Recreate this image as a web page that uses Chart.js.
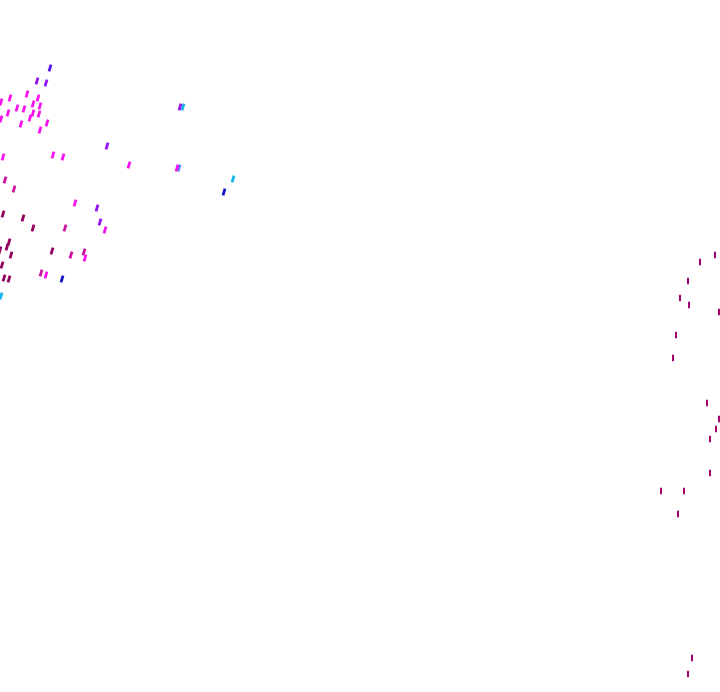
<!DOCTYPE html>
<html><head><meta charset="utf-8">
<script src="https://cdn.jsdelivr.net/npm/chart.js@4/dist/chart.umd.min.js"></script>
<style>html,body{margin:0;padding:0;background:#fff;}#wrap{width:720px;height:692px;}</style>
</head><body><div id="wrap"><canvas id="c"></canvas></div>
<script>
// Series (x, y)
const magentaX = [1,10,27,38,33,24,17,40,39,33,8,1,30,47,21,40,53,63,75,105,85,46,3,177,129];
const magentaY = [102,98,94,98,104,109,108,106,114,113,113,119,118,123,124,130,155,157,203,230,258,275,157,168,165];
const violetX = [37,46,107,180,97,100];
const violetY = [81,83,146,107,208,222];
const indigoX = [50];
const indigoY = [68];
const pinkX = [5,14,65,71,84,41];
const pinkY = [180,189,228,255,252,273];
const plumX = [3,23,33,9,7,11,0,52,2,4,9];
const plumY = [214,218,228,242,247,255,250,251,265,278,279];
const blueX = [62,224];
const blueY = [279,192];
const cyanX = [1,183,233];
const cyanY = [296,107,179];
const skyX = [179];
const skyY = [168];
const rightX = [715,700,688,680,689,719,676,673,707,719,716,710,710,661,684,678,692,688];
const rightY = [255,262,281,298,305,312,335,358,403,419,429,439,473,491,491,514,658,674];

function pts(xs, ys){ return xs.map((x,i)=>({x:x, y:ys[i]})); }
function ds(xs, ys, color, rot, r, bw){
  return {data: pts(xs, ys), pointStyle:'line', rotation: rot, pointRadius: r,
    borderColor: color, backgroundColor: color, pointBorderWidth: bw, borderWidth: bw, showLine:false, clip:false};
}
new Chart(document.getElementById('c'), {
  type:'scatter',
  data:{datasets:[
    ds(magentaX, magentaY, '#f812ee', -74, 3.6, 2.8),
    ds(violetX, violetY, '#9414ee', -74, 3.6, 2.8),
    ds(indigoX, indigoY, '#5a12ee', -74, 3.6, 2.8),
    ds(pinkX, pinkY, '#cc129e', -74, 3.6, 2.8),
    ds(plumX, plumY, '#940062', -74, 3.6, 2.8),
    ds(blueX, blueY, '#1414c4', -74, 3.6, 2.8),
    ds(cyanX, cyanY, '#14b4f0', -74, 3.6, 2.8),
    ds(skyX, skyY, '#4a82f0', -74, 3.6, 2.8),
    ds(rightX, rightY, '#a00070', 90, 3.2, 2)
  ]},
  options:{
    responsive:true, maintainAspectRatio:false, animation:false,
    layout:{padding:0, autoPadding:false},
    plugins:{legend:{display:false}, tooltip:{enabled:false}},
    scales:{
      x:{type:'linear', min:0, max:720, display:false},
      y:{type:'linear', min:0, max:692, reverse:true, display:false}
    }
  }
});
</script></body></html>
